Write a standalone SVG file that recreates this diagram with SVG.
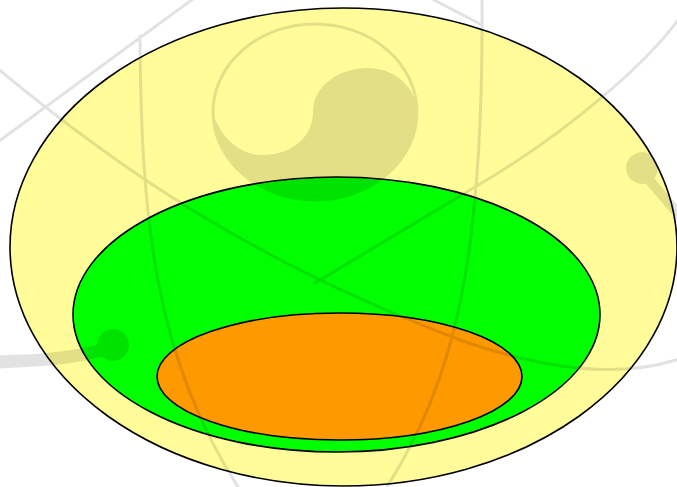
<svg xmlns="http://www.w3.org/2000/svg" width="677" height="487" viewBox="0 0 677 487">
<style>
.shape{stroke:#000;stroke-width:1.6}
.wm{fill:none;stroke:#000;stroke-width:3;stroke-linecap:round}
</style>
<rect width="677" height="487" fill="#ffffff"/>
<g id="outer"><ellipse class="shape" cx="343.5" cy="247" rx="333.5" ry="239" fill="#FFFC99"/></g>
<g id="middle"><ellipse class="shape" cx="336.5" cy="314.5" rx="263.5" ry="137.5" fill="#00FF00"/></g>
<g id="inner"><ellipse class="shape" cx="339.5" cy="376.5" rx="182.5" ry="63.5" fill="#FF9900"/></g>
<g id="watermark" opacity="0.11">
<path class="wm" d="M -5,144 L 197,-4"/>
<path class="wm" d="M 140,36 C 141,220 155,360 240,490"/>
<path class="wm" d="M 434,0 L 482,25"/>
<path class="wm" d="M 482,-2 C 484,260 455,380 385,490"/>
<path class="wm" d="M 682,14 C 655,55 575,128 480,184 L 315,283"/>
<path class="wm" d="M -3,68 C 120,170 250,260 460,340 C 540,368 620,380 682,358"/>
<ellipse class="wm" cx="315" cy="112" rx="102" ry="88"/>
<path fill="#000" d="M 313,112 C 313,85 340,68 368,68 C 395,68 417,88 417,112 A 102 88 0 0 1 213,114 C 225,145 245,155 263,155 C 290,155 313,138 313,112 Z"/>
<path fill="none" stroke="#000" stroke-width="13" d="M -5,362 C 40,361 80,358 108,348"/>
<circle cx="113" cy="345" r="16" fill="#000"/>
<circle cx="642" cy="168" r="16" fill="#000"/>
<path fill="none" stroke="#000" stroke-width="10" d="M 645,175 L 685,222"/>
</g>
</svg>
